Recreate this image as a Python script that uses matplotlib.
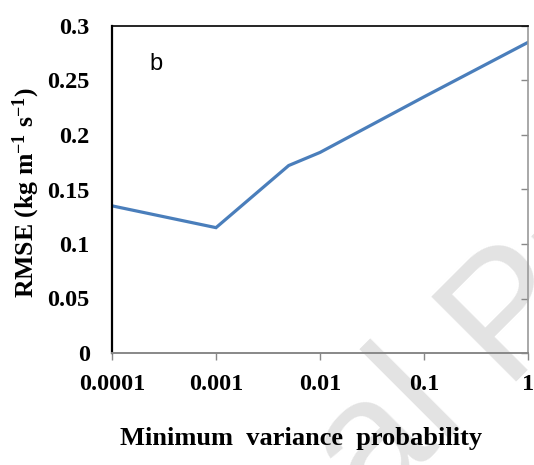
import matplotlib
matplotlib.use('Agg')
import matplotlib.pyplot as plt
import numpy as np

# minimum variance probability vs RMSE
prob = [0.0001, 0.001, 0.005, 0.01, 0.1, 1]
rmse = [0.135, 0.115, 0.172, 0.184, 0.235, 0.285]

yticks = [0, 0.05, 0.1, 0.15, 0.2, 0.25, 0.3]
ytick_labels = ['0', '0.05', '0.1', '0.15', '0.2', '0.25', '0.3']
xticks = [0.0001, 0.001, 0.01, 0.1, 1]
xtick_labels = ['0.0001', '0.001', '0.01', '0.1', '1']

plt.rcParams['font.family'] = 'Liberation Serif'
plt.rcParams['font.weight'] = 'bold'
plt.rcParams['axes.labelweight'] = 'bold'
plt.rcParams['mathtext.fontset'] = 'custom'
plt.rcParams['mathtext.rm'] = 'Liberation Serif:bold'
plt.rcParams['mathtext.it'] = 'Liberation Serif:bold'
plt.rcParams['mathtext.bf'] = 'Liberation Serif:bold'

fig = plt.figure(figsize=(5.34, 4.65), dpi=100)
ax = fig.add_axes([112/534, 1 - 353/465, 416/534, 327/465])
ax.patch.set_alpha(0)

ax.plot(prob, rmse, color='#4a7ebb', linewidth=2.3, solid_joinstyle='miter')

ax.set_xscale('log')
ax.set_xlim(0.0001, 1)
ax.set_ylim(0, 0.3)
ax.set_xticks(xticks)
ax.set_xticklabels(xtick_labels)
ax.xaxis.set_minor_locator(matplotlib.ticker.NullLocator())
ax.set_yticks(yticks)
ax.set_yticklabels(ytick_labels)

ax.tick_params(axis='x', direction='out', length=5, width=1, color='#888888',
               labelsize=17.5, pad=10)
ax.tick_params(axis='y', left=False, right=True, direction='in', length=5,
               width=1, color='#888888', labelsize=17.5, pad=16)

ax.spines['left'].set_color('black')
ax.spines['left'].set_linewidth(1.6)
ax.spines['top'].set_color('black')
ax.spines['top'].set_linewidth(1.2)
ax.spines['bottom'].set_color('#888888')
ax.spines['bottom'].set_linewidth(1.4)
ax.spines['right'].set_color('#999999')
ax.spines['right'].set_linewidth(1.2)

ax.set_ylabel(r'RMSE (kg m$^{-1}$ s$^{-1}$)', fontsize=18.5)
ax.yaxis.set_label_coords(-0.168, 0.49)
fig.text(301/534, 1 - 438/465, 'Minimum  variance  probability', ha='center',
         va='center', fontsize=19, fontweight='bold')

ax.text(0.105, 0.885, 'b', transform=ax.transAxes, fontsize=17,
        family='Liberation Sans', fontweight='normal', ha='center', va='center')

# faint watermark behind the plot
wm = dict(rotation=45, rotation_mode='anchor', va='baseline', fontsize=126,
          family='Liberation Sans', fontweight='normal', color='#e3e3e3', zorder=-1)
px, py = 502, 382
fig.text(px / 534, 1 - py / 465, 'Pre-proof', ha='left', **wm)
sx, sy = px - 48.6 * 0.707, py + 48.6 * 0.707
fig.text(sx / 534, 1 - sy / 465, 'Journal', ha='right', **wm)

fig.savefig('out.png', dpi=100)
